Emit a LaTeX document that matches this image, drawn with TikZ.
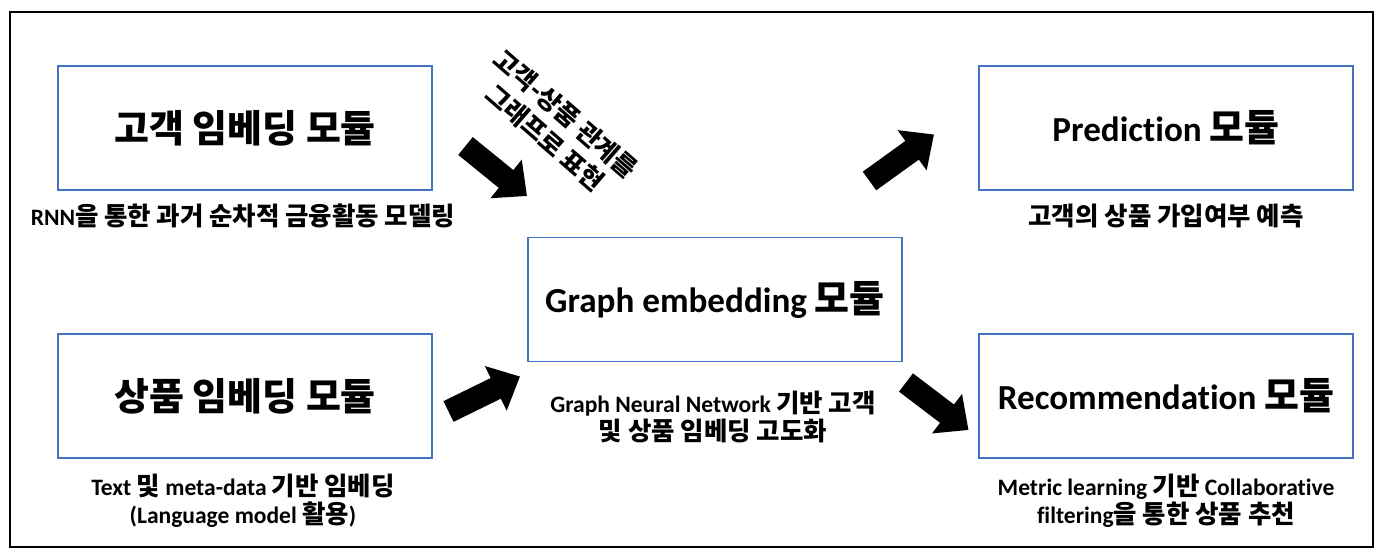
\documentclass[tikz,border=0pt]{standalone}
\usepackage{fontspec}
\setmainfont{Carlito}[Ligatures = NoCommon]
\newfontfamily\kr{Noto Sans CJK KR}[Scale = 1.08]
\newcommand{\ko}[1]{{\kr #1}}
\usepackage{tikz}
\usepackage{xcolor}
\definecolor{boxblue}{HTML}{4472C4}
\usetikzlibrary{arrows.meta}

\begin{document}
\begin{tikzpicture}[
		module/.style = {draw = boxblue, line width = 0.6pt, minimum width = 7.48cm, minimum height = 2.48cm, inner sep = 0pt, font = \bfseries\fontsize{20}{24}\selectfont},
		caption/.style = {align = center, inner sep = 0pt, font = \bfseries\fontsize{13.4}{16}\selectfont},
		fatarrow/.style = {line width = 0.46cm, -{Triangle[width = 0.96cm, length = 0.54cm]}}
	]
		\useasboundingbox (0,0) rectangle (27.54,11.06);
		\draw[line width = 1.1pt] (0.2,0.12) rectangle (27.46,10.82);
		\node[module] (cust) at (4.90,8.50) {\ko{고객 임베딩 모듈}};
		\node[module] (prod) at (4.90,3.14) {\ko{상품 임베딩 모듈}};
		\node[module] (graph) at (14.30,5.07) {Graph embedding \ko{모듈}};
		\node[module] (pred) at (23.32,8.50) {Prediction \ko{모듈}};
		\node[module] (rec) at (23.32,3.14) {Recommendation \ko{모듈}};
		\node[caption] (custcap) at (4.86,6.74) {RNN\ko{을 통한 과거 순차적 금융활동 모델링}};
		\node[caption] (prodcap) at (4.86,1.04) {Text \ko{및} meta-data \ko{기반 임베딩}\\(Language model \ko{활용})};
		\node[caption] (graphcap) at (14.26,2.72) {Graph Neural Network \ko{기반 고객}\\\ko{및 상품 임베딩 고도화}};
		\node[caption] (predcap) at (23.32,6.74) {\ko{고객의 상품 가입여부 예측}};
		\node[caption] (reccap) at (23.32,1.04) {Metric learning \ko{기반} Collaborative\\filtering\ko{을 통한 상품 추천}};
		\node[caption, font = \bfseries\fontsize{13.4}{18}\selectfont, rotate = -41] (relation) at (11.11,8.54) {\ko{고객-상품 관계를}\\\ko{그래프로 표현}};
		\coordinate (a1s) at (9.31,8.14); \coordinate (a1e) at (10.54,7.14);
		\coordinate (a2s) at (8.97,2.83); \coordinate (a2e) at (10.40,3.53);
		\coordinate (a3s) at (17.39,7.44); \coordinate (a3e) at (18.68,8.37);
		\coordinate (a4s) at (18.12,3.41); \coordinate (a4e) at (19.37,2.46);
		\draw[fatarrow] (a1s) -- (a1e);
		\draw[fatarrow] (a2s) -- (a2e);
		\draw[fatarrow] (a3s) -- (a3e);
		\draw[fatarrow] (a4s) -- (a4e);
	\end{tikzpicture}
\end{document}
